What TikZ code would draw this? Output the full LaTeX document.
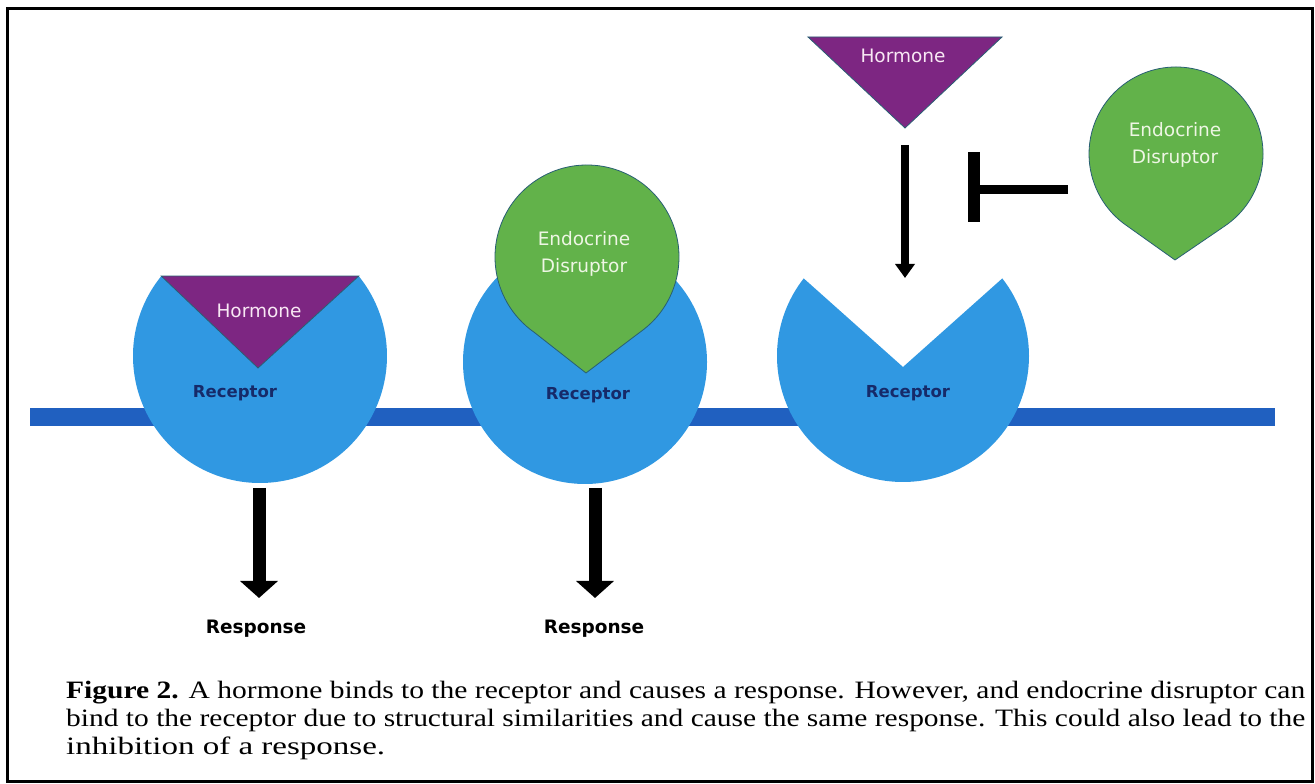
\documentclass[tikz,border=0pt]{standalone}
\usepackage{fontspec}
\usepackage{graphicx}
\setmainfont{Liberation Serif}
\newfontfamily\lab{DejaVu Sans}
\usetikzlibrary{arrows.meta,calc}
\definecolor{recblue}{RGB}{48,152,226}
\definecolor{membrane}{RGB}{32,96,192}
\definecolor{hormpurple}{RGB}{125,38,130}
\definecolor{edgreen}{RGB}{98,178,74}
\definecolor{edgeteal}{RGB}{40,95,115}
\definecolor{recnavy}{RGB}{22,42,105}
\definecolor{hormtext}{RGB}{248,232,244}
\definecolor{edtext}{RGB}{238,246,228}
\begin{document}
\begin{tikzpicture}[x=1pt,y=1pt,
  hlbl/.style={font=\lab\fontsize{18.5}{22}\selectfont, text=hormtext, inner sep=0pt},
  elbl/.style={font=\lab\fontsize{18.5}{27}\selectfont, text=edtext, inner sep=0pt, align=center},
  rlbl/.style={font=\lab\bfseries\fontsize{16.5}{20}\selectfont, text=recnavy, inner sep=0pt},
  resp/.style={font=\lab\bfseries\fontsize{18.5}{22}\selectfont, text=black, inner sep=0pt},
  caption/.style={font=\fontsize{25}{28}\selectfont, anchor=base west, inner sep=0pt},
  bigarrow/.style={line width=13pt, -{Triangle[width=37pt,length=17pt]}},
  smallarrow/.style={line width=8pt, -{Triangle[width=19pt,length=14pt]}},
  recshape/.style={fill=recblue},
  hormshape/.style={fill=hormpurple, draw=edgeteal, line width=0.8pt},
  dropshape/.style={fill=edgreen, draw=edgeteal, line width=0.8pt}]
\useasboundingbox (0,0) rectangle (1315,784);
\fill[white] (0,0) rectangle (1315,784);
\draw[line width=3pt] (7,2) rectangle (1312,775);

% membrane
\fill[membrane] (30,358) rectangle (1275,376);

% receptor 1 with hormone
\coordinate (c1) at (260,428);
\fill[recshape] (258,416) -- ($(c1)+(141:127)$) arc[start angle=141,end angle=399,radius=127] -- cycle;
\filldraw[hormshape] ($(c1)+(141:127)$) -- ($(c1)+(39:127)$) -- (258,416) -- cycle;
\node[hlbl] (h1) at (259,473) {Hormone};
\node[rlbl] (rec1) at (235,391) {Receptor};

% receptor 2 with endocrine disruptor
\coordinate (c2) at (585,422);
\fill[recshape] (c2) circle[radius=122];
\coordinate (d1) at (587,527);
\filldraw[dropshape] (586,411) -- ($(d1)+(-55:92)$) arc[start angle=-55,end angle=235,radius=92] -- cycle;
\node[elbl] (ed1) at (584,530) {Endocrine\\Disruptor};
\node[rlbl] (rec2) at (588,389) {Receptor};

% receptor 3 (empty)
\coordinate (c3) at (903,428);
\fill[recshape] (903,417) -- ($(c3)+(142:126)$) arc[start angle=142,end angle=398,radius=126] -- cycle;
\node[rlbl] (rec3) at (908,391) {Receptor};

% free hormone
\filldraw[hormshape] (808,747) -- (1002,747) -- (905,656) -- cycle;
\node[hlbl] (h2) at (903,728) {Hormone};

% free endocrine disruptor
\coordinate (d2) at (1176,630);
\filldraw[dropshape] (1175,524) -- ($(d2)+(-56:87)$) arc[start angle=-56,end angle=236,radius=87] -- cycle;
\node[elbl] (ed2) at (1175,639) {Endocrine\\Disruptor};

% arrow hormone -> receptor 3
\coordinate (hb) at (905,639);
\coordinate (r3top) at (905,506);
\draw[smallarrow] (hb) -- (r3top);

% inhibition
\coordinate (d2w) at (1068,594);
\coordinate (inh) at (980,594);
\coordinate (bartop) at (974,632);
\coordinate (barbot) at (974,562);
\draw[line width=9pt] (d2w) -- (inh);
\draw[line width=12pt] (bartop) -- (barbot);

% responses
\node[resp] (resp1) at (256,155) {Response};
\node[resp] (resp2) at (594,155) {Response};
\coordinate (r1b) at (259,296);
\coordinate (r2b) at (595,296);
\coordinate (t1) at (259,186);
\coordinate (t2) at (595,186);
\draw[bigarrow] (r1b) -- (t1);
\draw[bigarrow] (r2b) -- (t2);

% caption
\node[caption] (cap1) at (66,85) {\resizebox{1239pt}{\height}{\textbf{Figure 2.} A hormone binds to the receptor and causes a response. However, and endocrine disruptor can}};
\node[caption] (cap2) at (66,57) {\resizebox{1239pt}{\height}{bind to the receptor due to structural similarities and cause the same response. This could also lead to the}};
\node[caption] (cap3) at (66,29) {\resizebox{319pt}{\height}{inhibition of a response.}};
\end{tikzpicture}
\end{document}
